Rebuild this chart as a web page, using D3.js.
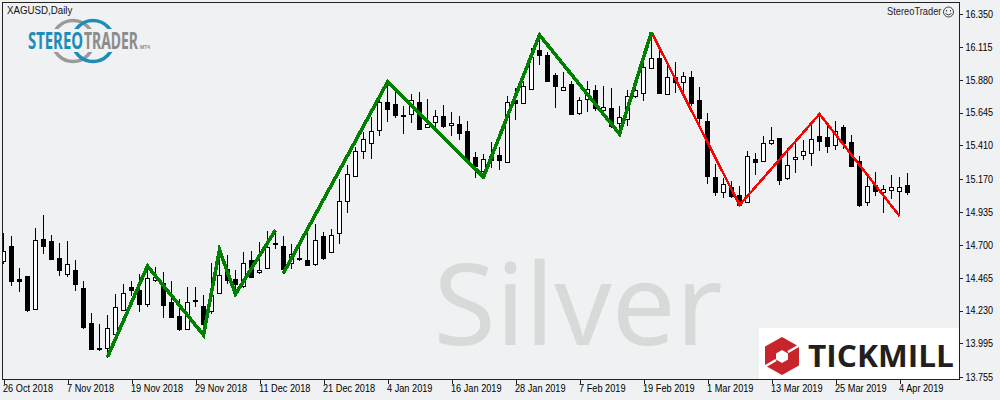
<!DOCTYPE html>
<html><head><meta charset="utf-8">
<script src="https://cdn.jsdelivr.net/npm/d3@7/dist/d3.min.js"></script>
<style>html,body{margin:0;padding:0;background:#eff1f3}svg{display:block}text{font-family:"Liberation Sans",sans-serif}</style>
</head><body><div id="c"></div>
<script>
const symbol="XAGUSD,Daily", watermark="Silver", brand="StereoTrader";
const priceTicks=[16.35,16.115,15.88,15.645,15.41,15.17,14.935,14.7,14.465,14.23,13.995,13.755];
const dateTickIndex=[0,8,16,24,32,40,48,56,64,72,80,88,96,104,112];
const dateTickLabels=["26 Oct 2018","7 Nov 2018","19 Nov 2018","29 Nov 2018","11 Dec 2018","21 Dec 2018","4 Jan 2019","16 Jan 2019","28 Jan 2019","7 Feb 2019","19 Feb 2019","1 Mar 2019","13 Mar 2019","25 Mar 2019","4 Apr 2019"];
const opens=[14.584,14.691,14.456,14.477,14.241,14.742,14.727,14.606,14.491,14.520,14.391,14.141,13.962,13.962,14.062,14.234,14.398,14.377,14.276,14.448,14.426,14.291,14.191,14.098,14.305,14.262,14.227,14.355,14.527,14.456,14.405,14.591,14.506,14.534,14.713,14.691,14.570,14.606,14.591,14.562,14.763,14.649,14.785,15.013,15.192,15.371,15.428,15.521,15.720,15.707,15.628,15.635,15.720,15.542,15.578,15.621,15.556,15.564,15.514,15.328,15.228,15.335,15.342,15.292,15.735,15.714,15.814,16.093,16.057,15.914,15.807,15.849,15.642,15.742,15.807,15.664,15.678,15.571,15.599,15.764,15.785,15.964,16.035,15.778,15.900,15.864,15.900,15.735,15.585,15.185,15.077,15.113,15.056,15.006,15.313,15.299,15.428,15.464,15.178,15.313,15.342,15.356,15.478,15.471,15.413,15.542,15.435,15.299,15.006,15.127,15.077,15.092,15.084,15.127];
const highs=[14.785,14.763,14.534,14.477,14.820,14.913,14.770,14.713,14.727,14.591,14.441,14.212,14.134,14.198,14.348,14.419,14.441,14.491,14.541,14.541,14.506,14.441,14.313,14.398,14.398,14.341,14.570,14.663,14.627,14.520,14.649,14.656,14.720,14.799,14.799,14.763,14.706,14.698,14.791,14.849,14.791,14.813,15.171,15.270,15.399,15.506,15.614,15.757,15.864,15.792,15.692,15.778,15.792,15.742,15.664,15.699,15.649,15.621,15.585,15.364,15.349,15.435,15.399,15.764,15.821,15.871,16.107,16.185,16.078,15.928,15.935,15.871,15.757,15.871,15.842,15.835,15.821,15.692,15.807,15.857,16.028,16.214,16.107,15.985,16.007,15.935,15.942,15.828,15.642,15.277,15.178,15.156,15.120,15.371,15.356,15.478,15.542,15.464,15.392,15.435,15.449,15.564,15.628,15.549,15.585,15.556,15.485,15.335,15.199,15.220,15.127,15.199,15.185,15.213];
const lows=[14.570,14.412,14.370,14.227,14.241,14.642,14.599,14.484,14.477,14.377,14.105,13.955,13.948,13.898,14.055,14.234,14.341,14.227,14.262,14.441,14.184,14.184,14.091,14.098,14.262,14.105,14.212,14.355,14.426,14.341,14.398,14.470,14.498,14.534,14.677,14.498,14.534,14.591,14.555,14.555,14.599,14.649,14.713,14.934,15.192,15.321,15.321,15.485,15.585,15.614,15.499,15.578,15.528,15.542,15.542,15.542,15.485,15.457,15.299,15.185,15.185,15.256,15.242,15.292,15.599,15.714,15.814,15.992,15.871,15.685,15.807,15.635,15.635,15.656,15.664,15.664,15.542,15.499,15.556,15.757,15.735,15.964,15.785,15.778,15.792,15.785,15.699,15.571,15.142,15.056,15.042,15.042,14.984,15.006,15.206,15.299,15.420,15.135,15.171,15.220,15.313,15.270,15.378,15.364,15.385,15.392,15.263,14.977,14.984,15.056,14.934,15.034,14.913,15.063];
const closes=[14.656,14.441,14.441,14.234,14.734,14.691,14.599,14.520,14.562,14.419,14.112,13.955,13.955,14.105,14.255,14.355,14.377,14.276,14.463,14.470,14.269,14.184,14.098,14.291,14.298,14.134,14.341,14.484,14.448,14.419,14.570,14.470,14.520,14.684,14.706,14.527,14.634,14.599,14.555,14.734,14.606,14.770,15.013,15.206,15.371,15.457,15.514,15.720,15.670,15.628,15.621,15.735,15.528,15.564,15.621,15.549,15.571,15.499,15.306,15.263,15.313,15.306,15.306,15.720,15.714,15.835,16.042,16.057,15.871,15.835,15.828,15.635,15.735,15.814,15.678,15.685,15.549,15.614,15.764,15.807,15.971,16.035,15.785,15.900,15.864,15.907,15.714,15.606,15.192,15.077,15.135,15.049,14.984,15.335,15.292,15.428,15.449,15.163,15.270,15.328,15.371,15.457,15.442,15.406,15.514,15.428,15.263,14.984,15.120,15.084,15.099,15.113,15.113,15.077];
const greenLegs1Idx=[13,18,25,27,29,34];
const greenLegs1=[13.898,14.548,14.055,14.663,14.348,14.806];
const greenLegs2Idx=[35,48,60,67,77,81];
const greenLegs2=[14.498,15.864,15.185,16.200,15.492,16.221];
const redLegsIdx=[81,92,102,112];
const redLegs=[16.221,14.984,15.635,14.906];

const W=1000,H=400,INK="#000";
const svg=d3.select("#c").append("svg").attr("width",W).attr("height",H).attr("viewBox",[0,0,W,H]);
const x=d3.scaleLinear().domain([0,113]).range([3.5,907.5]);
const y=d3.scaleLinear().domain([13.755,16.35]).range([377,14]);
const py=v=>Math.round(y(v))+.5;
svg.append("defs").append("clipPath").attr("id","plot").append("rect").attr("x",3).attr("y",3).attr("width",956).attr("height",376);

// watermark + Tickmill panel + StereoTrader mark sit behind the candles
svg.append("text").attr("x",433.5).attr("y",345).attr("font-size",114).attr("fill","#d8dada").attr("textLength",289).attr("lengthAdjust","spacingAndGlyphs").style("font-family","'Noto Sans'").text(watermark);

const tm=svg.append("g");
tm.append("rect").attr("x",759).attr("y",328).attr("width",200).attr("height",51).attr("fill","#fff");
tm.append("path").attr("fill","#c8242b").attr("fill-rule","evenodd").attr("stroke","#c8242b").attr("stroke-width",2).attr("stroke-linejoin","round")
  .attr("d","M782,338 L798,347 L798,365 L782,374 L766,365 L766,347 Z M782,349 L775,353 L775,360 L782,364 L789,360 L789,353 Z");
tm.append("path").attr("stroke","#fff").attr("stroke-width",2.5).attr("d","M764,367 L776,360 M788,352 L800,345");
tm.append("text").attr("x",808).attr("y",367).attr("font-size",31).attr("font-weight",700).attr("fill","#231f20").attr("textLength",146).attr("lengthAdjust","spacingAndGlyphs").style("font-family","'Open Sans'").text("TICKMILL");

const st=svg.append("g");
st.append("circle").attr("cx",73).attr("cy",41).attr("r",20.5).attr("fill","none").attr("stroke","#9a9a9a").attr("stroke-width",3.5);
st.append("circle").attr("cx",93).attr("cy",41).attr("r",20.5).attr("fill","none").attr("stroke","#1c8db8").attr("stroke-width",3.5);
st.append("rect").attr("x",26).attr("y",29).attr("width",124).attr("height",23).attr("fill","#eff1f3");
const logoType=(t,xx,len,col)=>st.append("text").attr("x",xx).attr("y",49).attr("font-size",23.5).attr("font-weight",700).attr("fill",col).attr("textLength",len).attr("lengthAdjust","spacingAndGlyphs").style("font-family","'Liberation Sans Narrow','Noto Sans'").text(t);
logoType("STEREO",28,55,"#1c8db8");
logoType("TRADER",84,54,"#8c8c8c");
st.append("text").attr("x",140).attr("y",49).attr("font-size",5).attr("font-weight",700).attr("fill","#8c8c8c").text("MT4");

// candles
const n=opens.length, rows=d3.range(n);
const plot=svg.append("g").attr("clip-path","url(#plot)").attr("shape-rendering","crispEdges");
plot.selectAll("line.w").data(rows).join("line").attr("class","w")
  .attr("x1",i=>x(i)).attr("x2",i=>x(i)).attr("y1",i=>py(highs[i])-.5).attr("y2",i=>py(lows[i])+.5).attr("stroke",INK);
plot.selectAll("rect.b").data(rows).join("rect").attr("class","b")
  .attr("x",i=>x(i)-2).attr("width",4)
  .attr("y",i=>py(Math.max(opens[i],closes[i])))
  .attr("height",i=>py(Math.min(opens[i],closes[i]))-py(Math.max(opens[i],closes[i])))
  .attr("fill",i=>closes[i]>=opens[i]?"#fff":"#000").attr("stroke",INK);

// zigzag legs
const leg=d3.line().x(d=>x(d[0])).y(d=>y(d[1]));
const drawLeg=(idx,val,col,w)=>plot.append("path").attr("d",leg(d3.zip(idx,val))).attr("fill","none").attr("stroke",col).attr("stroke-width",w).attr("stroke-linejoin","miter");
drawLeg(redLegsIdx,redLegs,"#ff0000",2.5);
drawLeg(greenLegs1Idx,greenLegs1,"#008000",3.6);
drawLeg(greenLegs2Idx,greenLegs2,"#008000",3.6);

// frame + axes
svg.append("rect").attr("x",2.5).attr("y",2.5).attr("width",957).attr("height",377).attr("fill","none").attr("stroke","#222").attr("shape-rendering","crispEdges");
const ay=svg.append("g").attr("transform","translate(959.5,0)").call(d3.axisRight(y).tickValues(priceTicks).tickFormat(d3.format(".3f")).tickSize(3).tickPadding(3));
ay.select(".domain").remove();
const ax=svg.append("g").attr("transform","translate(0,379.5)").call(d3.axisBottom(x).tickValues(dateTickIndex).tickFormat((d,i)=>dateTickLabels[i]).tickSize(4).tickPadding(1.5));
ax.select(".domain").remove();
ax.selectAll("text").attr("text-anchor","start").attr("dx",-1);
svg.selectAll(".tick line").attr("stroke","#222").attr("shape-rendering","crispEdges");
svg.selectAll(".tick text").attr("fill","#000").style("font-size","10.5px").style("font-family","'Liberation Sans'");
const squeeze=(sel,k)=>sel.each(function(){this.setAttribute("textLength",this.getComputedTextLength()*k);this.setAttribute("lengthAdjust","spacingAndGlyphs");});
squeeze(ay.selectAll("text"),0.86);
squeeze(ax.selectAll("text"),0.875);

squeeze(svg.append("text").attr("x",7).attr("y",14).attr("font-size",10.5).attr("fill","#111").text(symbol),0.925);
squeeze(svg.append("text").attr("x",887).attr("y",15).attr("font-size",10.5).attr("fill","#222").text(brand),0.885);
const sm=svg.append("g").attr("fill","none").attr("stroke","#444");
sm.append("circle").attr("cx",948.5).attr("cy",12).attr("r",5);
sm.append("path").attr("d","M945.5,13.5 Q948.5,16.5 951.5,13.5");
sm.append("path").attr("d","M946.5,10v1.5M950.5,10v1.5");
</script></body></html>
